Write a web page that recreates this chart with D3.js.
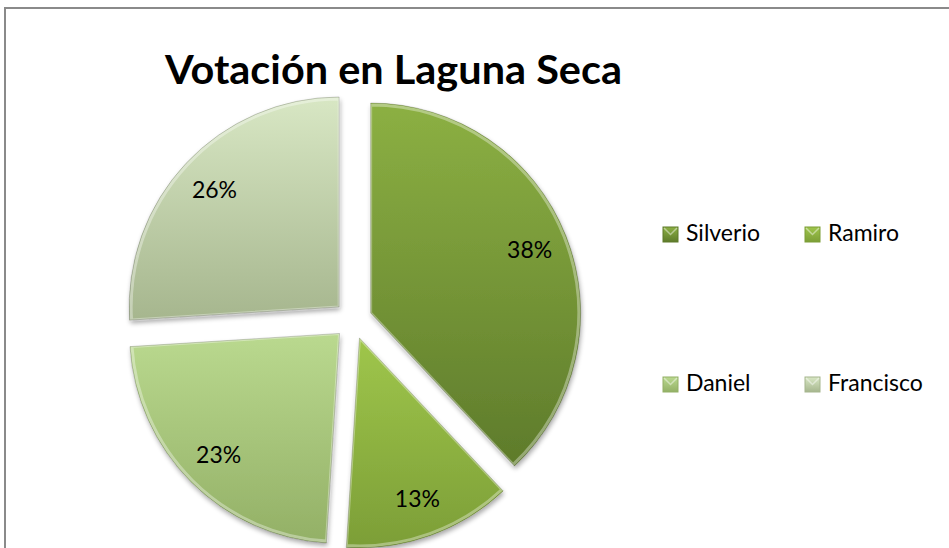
<!DOCTYPE html>
<html>
<head>
<meta charset="utf-8">
<script src="https://cdn.jsdelivr.net/npm/d3@7/dist/d3.min.js"></script>
<style>
  html, body { margin: 0; padding: 0; background: #fff; }
  svg { display: block; }
  text { font-family: Lato, "Open Sans", sans-serif; fill: #000; }
</style>
</head>
<body>
<svg id="chart" width="949" height="548"></svg>
<script>
// ---- data ----
const title = "Votación en Laguna Seca";
const categories = ["Silverio", "Ramiro", "Daniel", "Francisco"];
const values = [38, 13, 23, 26];
const percentLabels = ["38%", "13%", "23%", "26%"];
// slice colours (top, bottom of gradient)
const topColors = ["#8cb043", "#9fc64b", "#bad98f", "#d8e7c4"];
const bottomColors = ["#5e7b2b", "#7c9e37", "#93b066", "#a6b68e"];

const W = 949, H = 548;
const svg = d3.select("#chart");
const defs = svg.append("defs");

// frame
svg.append("rect")
  .attr("x", 5).attr("y", 8)
  .attr("width", W + 10).attr("height", H + 10)
  .attr("fill", "#fff").attr("stroke", "#8a8a8a").attr("stroke-width", 2);

// shadow filter
const f = defs.append("filter").attr("id", "shadow")
  .attr("x", "-10%").attr("y", "-10%").attr("width", "125%").attr("height", "125%");
f.append("feGaussianBlur").attr("in", "SourceAlpha").attr("stdDeviation", 2.5).attr("result", "b");
f.append("feOffset").attr("in", "b").attr("dx", 1).attr("dy", 3).attr("result", "o");
f.append("feComponentTransfer").attr("in", "o").attr("result", "o2")
  .append("feFuncA").attr("type", "linear").attr("slope", 0.35);
const m = f.append("feMerge");
m.append("feMergeNode").attr("in", "o2");
m.append("feMergeNode").attr("in", "SourceGraphic");

// gradients
categories.forEach((c, i) => {
  const g = defs.append("linearGradient").attr("id", "grad" + i)
    .attr("x1", 0).attr("y1", 0).attr("x2", 0).attr("y2", 1);
  g.append("stop").attr("offset", "0%").attr("stop-color", topColors[i]);
  g.append("stop").attr("offset", "100%").attr("stop-color", bottomColors[i]);
});

// title
svg.append("text")
  .attr("x", 165).attr("y", 84)
  .attr("font-size", 40).attr("font-weight", "bold")
  .attr("textLength", 457).attr("lengthAdjust", "spacingAndGlyphs")
  .text(title);

// pie
const cx = 353, cy = 320, R = 210, explode = 19, labelR = 171;
const pie = d3.pie().sort(null).value(d => d).startAngle(0).endAngle(2 * Math.PI);
const arcs = pie(values);
const arc = d3.arc().innerRadius(0).outerRadius(R);
const labelArc = d3.arc().innerRadius(labelR).outerRadius(labelR);

const pieG = svg.append("g").attr("transform", `translate(${cx},${cy})`);
const slices = pieG.selectAll("g.slice").data(arcs).enter().append("g")
  .attr("class", "slice")
  .attr("transform", d => {
    const a = (d.startAngle + d.endAngle) / 2;
    return `translate(${explode * Math.sin(a)},${-explode * Math.cos(a)})`;
  });

slices.append("path")
  .attr("d", arc)
  .attr("fill", (d, i) => `url(#grad${i})`)
  .attr("filter", "url(#shadow)");

// bevel: light inner edge and darker outer edge
slices.append("path")
  .attr("d", d3.arc().innerRadius(0).outerRadius(R - 2))
  .attr("fill", "none")
  .attr("stroke", "rgba(255,255,255,0.35)")
  .attr("stroke-width", 3)
  .attr("stroke-linejoin", "round");
slices.append("path")
  .attr("d", arc)
  .attr("fill", "none")
  .attr("stroke", "rgba(0,0,0,0.18)")
  .attr("stroke-width", 1);

slices.append("text")
  .attr("transform", d => `translate(${labelArc.centroid(d)})`)
  .attr("text-anchor", "middle")
  .attr("dy", "0.36em")
  .attr("font-size", 23)
  .text((d, i) => percentLabels[i]);

// legend
const legendX = [663, 805];
const legendY = [227, 377];
const lg = svg.append("g");
categories.forEach((c, i) => {
  const x = legendX[i % 2], y = legendY[Math.floor(i / 2)];
  const g = lg.append("g").attr("transform", `translate(${x},${y})`);
  g.append("rect").attr("width", 15).attr("height", 15)
    .attr("fill", `url(#grad${i})`).attr("stroke", bottomColors[i]).attr("stroke-width", 1);
  g.append("path").attr("d", "M1,1 L7.5,7.5 L14,1")
    .attr("fill", "none").attr("stroke", "rgba(255,255,255,0.45)").attr("stroke-width", 1.5);
  g.append("text").attr("x", 23).attr("y", 14)
    .attr("font-size", 23).text(c);
});
</script>
</body>
</html>
